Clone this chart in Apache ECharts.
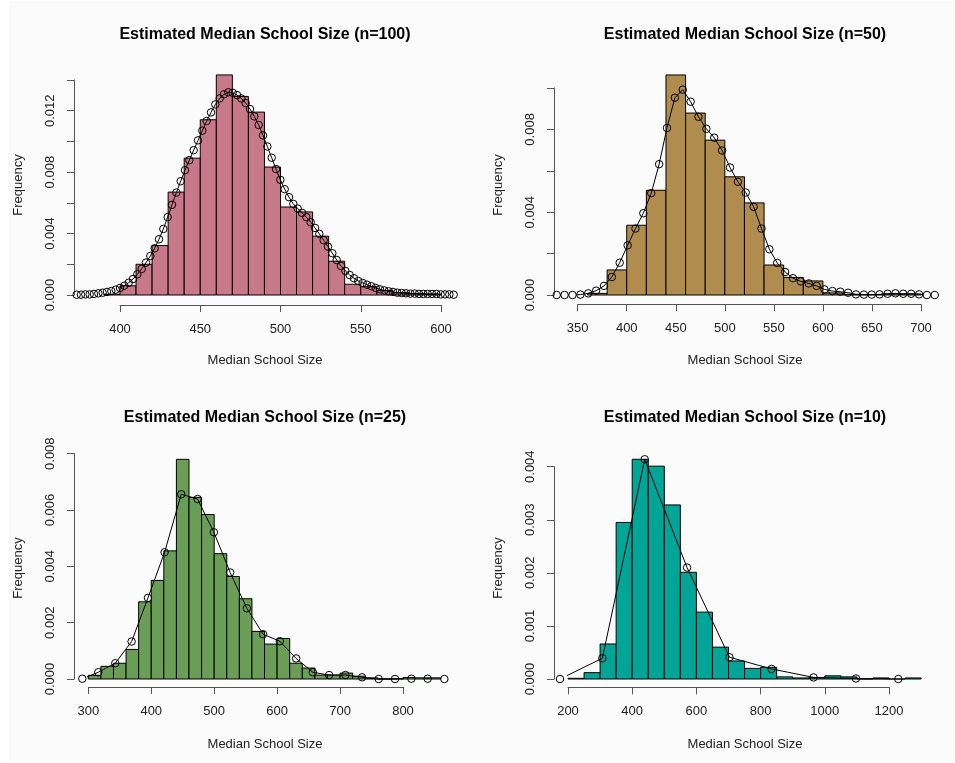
<!DOCTYPE html>
<html>
<head>
<meta charset="utf-8">
<script src="https://cdn.jsdelivr.net/npm/echarts@6/dist/echarts.min.js"></script>
<style>
html,body{margin:0;padding:0;background:#fff;}
#chart{width:955px;height:763px;}
</style>
</head>
<body>
<div id="chart"></div>
<script>
const titles = [
  'Estimated Median School Size (n=100)',
  'Estimated Median School Size (n=50)',
  'Estimated Median School Size (n=25)',
  'Estimated Median School Size (n=10)'
];
const xAxisTitle = 'Median School Size';
const yAxisTitle = 'Frequency';

// ---------- Panel 1 (n=100) ----------
const breaks1 = [390,400,410,420,430,440,450,460,470,480,490,500,510,520,530,540,550,560,570,580,590,600];
const freq1 = [0.00005,0.0006,0.0020,0.00322,0.0067,0.00891,0.01141,0.01433,0.01293,0.01191,0.00833,0.00573,0.00541,0.00383,0.0022,0.0007,0.00054,0.0003,0.00015,0.0001,0.00005];
const densX1 = [373.0,375.7,378.4,381.1,383.8,386.5,389.2,391.9,394.6,397.3,400.0,402.7,405.4,408.1,410.8,413.5,416.2,418.9,421.6,424.3,427.0,429.7,432.4,435.1,437.8,440.5,443.2,445.9,448.6,451.3,454.0,456.7,459.4,462.1,464.8,467.5,470.2,472.9,475.6,478.3,481.0,483.7,486.4,489.1,491.8,494.5,497.2,499.9,502.6,505.3,508.0,510.7,513.4,516.1,518.8,521.5,524.2,526.9,529.6,532.3,535.0,537.7,540.4,543.1,545.8,548.5,551.2,553.9,556.6,559.3,562.0,564.7,567.4,570.1,572.8,575.5,578.2,580.9,583.6,586.3,589.0,591.7,594.4,597.1,599.8,602.5,605.2,607.9];
const densY1 = [0.00002,0.00002,0.00004,0.00004,0.00007,0.00011,0.00015,0.0002,0.00026,0.00035,0.00046,0.00061,0.0008,0.00104,0.00135,0.0017,0.00211,0.00254,0.00304,0.00363,0.0043,0.00507,0.00587,0.00667,0.00741,0.00813,0.00878,0.00943,0.01007,0.0107,0.01133,0.01189,0.01241,0.0128,0.01307,0.0132,0.01317,0.01302,0.0128,0.0125,0.01211,0.01163,0.01107,0.01039,0.00967,0.00894,0.0082,0.0075,0.00689,0.00637,0.00593,0.00563,0.00535,0.00507,0.00474,0.00437,0.00398,0.00357,0.00315,0.00272,0.00228,0.00189,0.00157,0.0013,0.00109,0.00091,0.00078,0.00067,0.00057,0.00046,0.00037,0.0003,0.00024,0.0002,0.00015,0.00013,0.00011,0.00009,0.00009,0.00007,0.00007,0.00007,0.00007,0.00007,0.00004,0.00004,0.00004,0.00002];

// ---------- Panel 2 (n=50) ----------
const breaks2 = [360,380,400,420,440,460,480,500,520,540,560,580,600,620,640,660,680,700];
const freq2 = [0.00008,0.00121,0.00337,0.00506,0.01063,0.00879,0.00748,0.00571,0.00445,0.00145,0.00085,0.00068,0.0001,0.00003,0.00002,0.00005,0.00005];
const densX2 = [328.6,336.6,344.7,352.7,360.7,368.8,376.8,384.8,392.8,400.9,408.9,416.9,425.0,433.0,441.0,449.1,457.1,465.1,473.1,481.2,489.2,497.2,505.3,513.3,521.3,529.4,537.4,545.4,553.4,561.5,569.5,577.5,585.6,593.6,601.6,609.7,617.7,625.7,633.7,641.8,649.8,657.8,665.9,673.9,681.9,690.0,698.0,706.0,714.0];
const densY2 = [0,0,0,0.00002,0.00008,0.00021,0.00044,0.00087,0.00156,0.0024,0.00321,0.00395,0.00492,0.00632,0.00807,0.00953,0.00992,0.00934,0.00861,0.00803,0.0076,0.00698,0.00616,0.00547,0.00495,0.00426,0.00321,0.00221,0.00155,0.00111,0.00081,0.00066,0.00056,0.00044,0.00027,0.00019,0.00016,0.00011,0.00003,0.00002,0.00002,0.00003,0.00006,0.00008,0.00006,0.00006,0.00003,0,0];

// ---------- Panel 3 (n=25) ----------
const breaks3 = [300,320,340,360,380,400,420,440,460,480,500,520,540,560,580,600,620,640,660,680,700,720,740,760,780,800,820,840,860];
const freq3 = [0.00013,0.00045,0.00056,0.00105,0.00274,0.0035,0.00455,0.0078,0.00645,0.00584,0.00445,0.00364,0.00285,0.00169,0.00124,0.00144,0.00056,0.00039,0.00014,0.00014,0.00021,0.0001,0.00004,0,0.00001,0.00005,0.00004,0.00004];
const densX3 = [290.5,315.9,342.9,368.8,394.8,421.2,447.7,473.6,499.5,525.4,551.9,577.8,604.3,630.2,656.7,682.6,708.5,735.0,761.4,787.3,813.3,839.2,865.7];
const densY3 = [0.00001,0.00024,0.00056,0.00133,0.00288,0.0045,0.00656,0.00639,0.00521,0.00378,0.00251,0.00159,0.00134,0.00073,0.00024,0.00014,0.00014,0.00006,0,0,0.00001,0.00001,0];

// ---------- Panel 4 (n=10) ----------
const breaks4 = [200,250,300,350,400,450,500,550,600,650,700,750,800,850,900,950,1000,1050,1100,1150,1200,1250,1300];
const freq4 = [0.000013,0.00012,0.00066,0.00295,0.00414,0.00401,0.00328,0.00201,0.00126,0.0006,0.00034,0.0002,0.00022,0.00004,0.00002,0.000025,0.00006,0.00004,0,0.00002,0,0.00002];
const densX4 = [175,307,439,571,703,834,965,1097,1229];
const densY4 = [0,0.00039,0.00414,0.0021,0.00041,0.00019,0.00003,0.00001,0];

// ---------- axis ticks ----------
const xTicks = [[400,600,50],[350,700,50],[300,800,100],[200,1200,200]];
const yTicks = [[0,0.014,0.002],[0,0.010,0.002],[0,0.008,0.002],[0,0.004,0.001]];
const yLabelEvery = [0.004,0.004,0.002,0.001];

const colors = ['#C87989','#B08C4E','#6A9E56','#00A598'];

const layout = [
  {left:120, width:321, top:80, height:215, xOff:10, yOff:46, cx:265, ty:35, ny:360, fx:18, fy:185},
  {left:577.7, width:343.3, top:88, height:207, xOff:9.3, yOff:23.7, cx:745, ty:35, ny:360, fx:498, fy:185},
  {left:88.3, width:314.7, top:453.7, height:225.3, xOff:8, yOff:14.3, cx:265, ty:418, ny:744, fx:18, fy:568},
  {left:568, width:321, top:466.7, height:212.3, xOff:8.3, yOff:14, cx:745, ty:418, ny:744, fx:498, fy:568}
];

const panels = [
  [breaks1,freq1,densX1,densY1],
  [breaks2,freq2,densX2,densY2],
  [breaks3,freq3,densX3,densY3],
  [breaks4,freq4,densX4,densY4]
];

const FONT = '"Liberation Sans", Arial, Helvetica, sans-serif';
const axisColor = '#555';
const grids = [], xAxes = [], yAxes = [], series = [], graphics = [];

graphics.push({type:'rect', z:-10, shape:{x:9, y:1, width:946, height:762}, style:{fill:'#fbfbfb'}});

panels.forEach((p, i) => {
  const L = layout[i];
  grids.push({left:L.left, top:L.top, width:L.width, height:L.height, containLabel:false});
  xAxes.push({
    gridIndex:i, type:'value', min:xTicks[i][0], max:xTicks[i][1], interval:xTicks[i][2],
    offset:L.xOff, position:'bottom',
    axisLine:{show:true, onZero:false, lineStyle:{color:axisColor, width:1}},
    axisTick:{show:true, length:7, lineStyle:{color:axisColor, width:1}},
    axisLabel:{show:true, fontSize:13, color:'#222', margin:18, fontFamily:FONT,
      formatter: v => String(v)},
    splitLine:{show:false}
  });
  const every = yLabelEvery[i];
  yAxes.push({
    gridIndex:i, type:'value', min:yTicks[i][0], max:yTicks[i][1], interval:yTicks[i][2],
    offset:L.yOff, position:'left',
    axisLine:{show:true, onZero:false, lineStyle:{color:axisColor, width:1}},
    axisTick:{show:true, length:7, lineStyle:{color:axisColor, width:1}},
    axisLabel:{show:true, fontSize:13, color:'#222', margin:17, rotate:90, fontFamily:FONT,
      formatter: v => { const r = v/every; return Math.abs(r - Math.round(r)) < 1e-6 ? v.toFixed(3) : ''; }},
    splitLine:{show:false}
  });
  const [br, fr, dx, dy] = p;
  const col = colors[i];
  series.push({
    type:'custom', xAxisIndex:i, yAxisIndex:i, clip:false, silent:true,
    data: fr.map((f, k) => [br[k], br[k+1], f]),
    encode:{x:[0,1], y:2},
    renderItem:(params, api) => {
      const p0 = api.coord([api.value(0), api.value(2)]);
      const p1 = api.coord([api.value(1), 0]);
      return {type:'rect', shape:{x:p0[0], y:p0[1], width:p1[0]-p0[0], height:p1[1]-p0[1]},
        style:{fill:col, stroke:'#000', lineWidth:1}};
    }
  });
  series.push({
    type:'line', xAxisIndex:i, yAxisIndex:i, clip:false, silent:true,
    data: dx.map((x, k) => [x, dy[k]]),
    symbol:'circle', symbolSize:7.5, showAllSymbol:true,
    itemStyle:{color:'rgba(0,0,0,0)', borderColor:'#000', borderWidth:1},
    lineStyle:{color:'#000', width:1},
    z:3
  });
  graphics.push({type:'text', style:{text:titles[i], x:L.cx, y:L.ty, textAlign:'center', textVerticalAlign:'middle',
    font:'bold 16px ' + FONT, fill:'#000'}});
  graphics.push({type:'text', style:{text:xAxisTitle, x:L.cx, y:L.ny, textAlign:'center', textVerticalAlign:'middle',
    font:'13px ' + FONT, fill:'#222'}});
  graphics.push({type:'text', x:L.fx, y:L.fy, rotation:Math.PI/2,
    style:{text:yAxisTitle, x:0, y:0, textAlign:'center', textVerticalAlign:'middle', font:'13px ' + FONT, fill:'#222'}});
});

const chart = echarts.init(document.getElementById('chart'), null, {renderer:'canvas'});
chart.setOption({
  animation:false,
  backgroundColor:'#ffffff',
  grid:grids, xAxis:xAxes, yAxis:yAxes, series:series, graphic:graphics
});
</script>
</body>
</html>
